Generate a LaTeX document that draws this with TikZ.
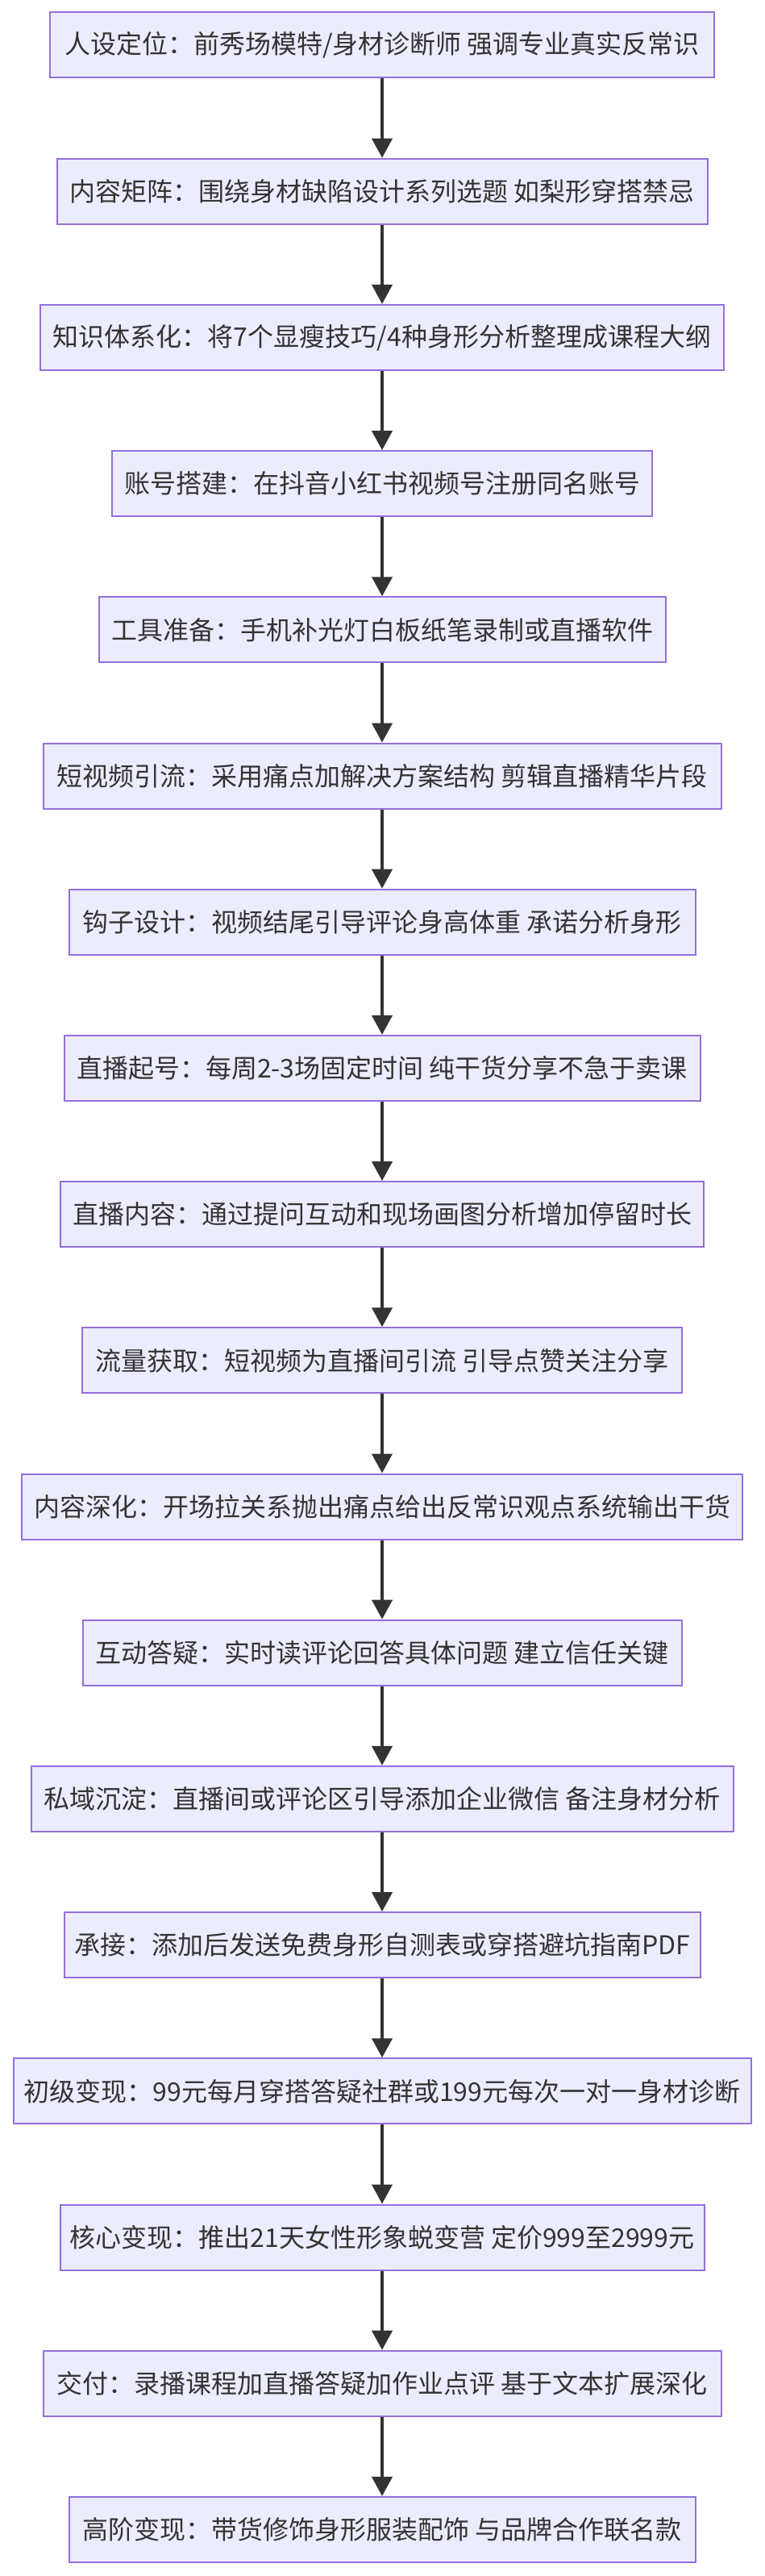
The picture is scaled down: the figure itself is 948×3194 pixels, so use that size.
\documentclass[tikz,border=0pt]{standalone}
\usepackage{fontspec}
\newfontfamily\cjk{Noto Sans CJK SC}
\usetikzlibrary{arrows.meta}
\definecolor{boxfill}{HTML}{ECECFF}
\definecolor{boxline}{HTML}{9370DB}
\definecolor{ink}{HTML}{333333}
\tikzset{
  stepbox/.style={draw=boxline, fill=boxfill, line width=1pt, minimum height=40.5pt,
    inner xsep=2pt, inner ysep=0pt, text=ink, font=\cjk\fontsize{16}{19}\selectfont, anchor=center},
  flow/.style={draw=ink, line width=2pt, -{Triangle[length=12pt,width=12.5pt]}, shorten >=0pt}
}
\begin{document}
\begin{tikzpicture}[x=0.5pt,y=-0.5pt]
\useasboundingbox (0,0) rectangle (948,3194);
\fill[white] (0,0) rectangle (948,3194);
\def\dy{181.2}
\node[stepbox, minimum width=412pt] (n1) at (474,{56+0*\dy}) {人设定位：前秀场模特/身材诊断师 强调专业真实反常识};
\node[stepbox, minimum width=403.5pt] (n2) at (474,{56+1*\dy}) {内容矩阵：围绕身材缺陷设计系列选题 如梨形穿搭禁忌};
\node[stepbox, minimum width=424pt] (n3) at (474,{56+2*\dy}) {知识体系化：将7个显瘦技巧/4种身形分析整理成课程大纲};
\node[stepbox, minimum width=335pt] (n4) at (474,{56+3*\dy}) {账号搭建：在抖音小红书视频号注册同名账号};
\node[stepbox, minimum width=351.5pt] (n5) at (474,{56+4*\dy}) {工具准备：手机补光灯白板纸笔录制或直播软件};
\node[stepbox, minimum width=420.5pt] (n6) at (474,{56+5*\dy}) {短视频引流：采用痛点加解决方案结构 剪辑直播精华片段};
\node[stepbox, minimum width=388.5pt] (n7) at (474,{56+6*\dy}) {钩子设计：视频结尾引导评论身高体重 承诺分析身形};
\node[stepbox, minimum width=394.5pt] (n8) at (474,{56+7*\dy}) {直播起号：每周2-3场固定时间 纯干货分享不急于卖课};
\node[stepbox, minimum width=399pt] (n9) at (474,{56+8*\dy}) {直播内容：通过提问互动和现场画图分析增加停留时长};
\node[stepbox, minimum width=372pt] (n10) at (474,{56+9*\dy}) {流量获取：短视频为直播间引流 引导点赞关注分享};
\node[stepbox, minimum width=447pt] (n11) at (474,{56+10*\dy}) {内容深化：开场拉关系抛出痛点给出反常识观点系统输出干货};
\node[stepbox, minimum width=371.5pt] (n12) at (474,{56+11*\dy}) {互动答疑：实时读评论回答具体问题 建立信任关键};
\node[stepbox, minimum width=435.5pt] (n13) at (474,{56+12*\dy}) {私域沉淀：直播间或评论区引导添加企业微信 备注身材分析};
\node[stepbox, minimum width=394.5pt] (n14) at (474,{56+13*\dy}) {承接：添加后发送免费身形自测表或穿搭避坑指南PDF};
\node[stepbox, minimum width=457.5pt] (n15) at (474,{56+14*\dy}) {初级变现：99元每月穿搭答疑社群或199元每次一对一身材诊断};
\node[stepbox, minimum width=399.5pt] (n16) at (474,{56+15*\dy}) {核心变现：推出21天女性形象蜕变营 定价999至2999元};
\node[stepbox, minimum width=420.5pt] (n17) at (474,{56+16*\dy}) {交付：录播课程加直播答疑加作业点评 基于文本扩展深化};
\node[stepbox, minimum width=388.5pt] (n18) at (474,{56+17*\dy}) {高阶变现：带货修饰身形服装配饰 与品牌合作联名款};
\foreach \a/\b in {n1/n2,n2/n3,n3/n4,n4/n5,n5/n6,n6/n7,n7/n8,n8/n9,n9/n10,n10/n11,n11/n12,n12/n13,n13/n14,n14/n15,n15/n16,n16/n17,n17/n18}
  \draw[flow] (\a.south) -- (\b.north);
\end{tikzpicture}
\end{document}
